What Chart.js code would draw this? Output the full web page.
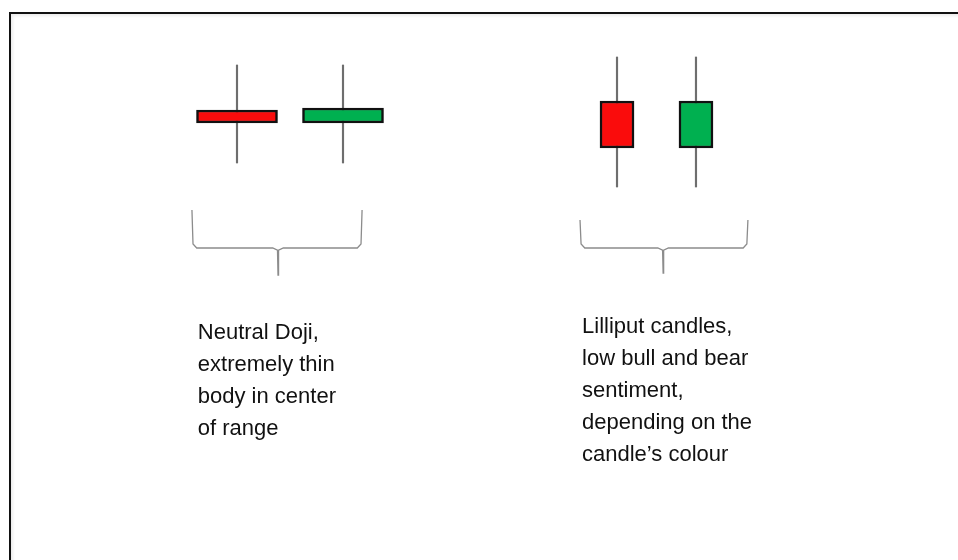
<!DOCTYPE html>
<html>
<head>
<meta charset="utf-8">
<script src="https://cdn.jsdelivr.net/npm/chart.js@4/dist/chart.umd.min.js"></script>
<style>
  html, body { margin: 0; padding: 0; background: #fff; }
  #wrap { position: relative; width: 958px; height: 560px; overflow: hidden; }
  #frame {
    position: absolute; left: 9px; top: 12px; right: -4px; bottom: -4px;
    border-top: 2px solid #111; border-left: 2px solid #111;
    box-shadow: inset 2px 2px 3px rgba(0,0,0,0.08);
  }
  canvas { position: absolute; left: 0; top: 0; }
</style>
</head>
<body>
<div id="wrap">
  <div id="frame"></div>
  <canvas id="velas" width="958" height="560"></canvas>
</div>
<script>
// posiciones de las velas (eje x) y precios
const candleX   = [1, 2, 4.585, 5.33];
const candleOpen  = [72, 66.8, 75.6, 56.8];
const candleClose = [66.8, 72.8, 56.8, 75.6];
const candleHigh  = [90, 90, 93.2, 93.2];
const candleLow   = [50.8, 50.8, 41.2, 41.2];
const candleKind  = ['doji', 'doji', 'lilliput', 'lilliput'];

// llaves bajo cada grupo
const braceSpans = [[0.575, 2.18], [4.236, 5.82]];
const braceTips  = [1.387, 5.02];
const braceTops  = [32, 28];
const braceBar   = [16.8, 16.8];
const braceTail  = [6, 6.8];

const notes = [
  ["Neutral Doji,", "extremely thin", "body in center", "of range"],
  ["Lilliput candles,", "low bull and bear", "sentiment,", "depending on the", "candle\u2019s colour"]
];

const ROJO = 'rgb(250,12,12)';
const VERDE = 'rgb(0,176,80)';

function bodies(kind){
  const pts = [];
  candleX.forEach((x, i) => {
    if (candleKind[i] === kind) pts.push({x: x, y: [candleOpen[i], candleClose[i]]});
  });
  return pts;
}
function bodyColors(kind){
  const c = [];
  candleX.forEach((x, i) => {
    if (candleKind[i] === kind) c.push(candleClose[i] > candleOpen[i] ? VERDE : ROJO);
  });
  return c;
}

function bracePoints(i){
  const a = braceSpans[i][0], b = braceSpans[i][1], t = braceTips[i];
  const top = braceTops[i], bar = braceBar[i], tail = braceTail[i];
  return [
    {x: a, y: top}, {x: a + 0.01, y: bar + 1.6}, {x: a + 0.045, y: bar},
    {x: t - 0.05, y: bar}, {x: t - 0.005, y: bar - 0.9}, {x: t, y: tail},
    {x: t + 0.005, y: bar - 0.9}, {x: t + 0.05, y: bar},
    {x: b - 0.045, y: bar}, {x: b - 0.01, y: bar + 1.6}, {x: b, y: top}
  ];
}

const textos = {
  id: 'textos',
  afterDraw(chart){
    const ctx = chart.ctx, xs = chart.scales.x, ys = chart.scales.y;
    const anchors = [{x: 0.63, y: -19.6}, {x: 4.255, y: -17.2}];
    ctx.save();
    ctx.font = '22px "Liberation Sans", Arial, sans-serif';
    ctx.fillStyle = '#111';
    ctx.textBaseline = 'alphabetic';
    ctx.textAlign = 'left';
    notes.forEach((lines, k) => {
      const px = xs.getPixelForValue(anchors[k].x);
      const py = ys.getPixelForValue(anchors[k].y);
      lines.forEach((l, j) => ctx.fillText(l, px, py + j * 32));
    });
    ctx.restore();
  }
};

const datasets = [
  {
    type: 'bar', data: bodies('doji'), barThickness: 81, grouped: false,
    backgroundColor: bodyColors('doji'), borderColor: '#111', borderWidth: 2.5,
    borderSkipped: false, order: 0
  },
  {
    type: 'bar', data: bodies('lilliput'), barThickness: 34, grouped: false,
    backgroundColor: bodyColors('lilliput'), borderColor: '#111', borderWidth: 2.5,
    borderSkipped: false, order: 0
  },
  {
    type: 'bar', data: candleX.map((x, i) => ({x: x, y: [candleLow[i], candleHigh[i]]})),
    barThickness: 1.5, grouped: false, backgroundColor: '#6e6e6e', borderWidth: 0, order: 2
  }
];
braceSpans.forEach((s, i) => {
  datasets.push({
    type: 'line', data: bracePoints(i), borderColor: '#8c8c8c', borderWidth: 1.3,
    pointRadius: 0, tension: 0, fill: false, order: 1
  });
});

new Chart(document.getElementById('velas'), {
  type: 'bar',
  data: { datasets: datasets },
  options: {
    responsive: false,
    animation: false,
    events: [],
    layout: { padding: { left: 131, right: 32, top: 40, bottom: 70 } },
    plugins: { legend: { display: false }, tooltip: { enabled: false } },
    scales: {
      x: { type: 'linear', min: 0, max: 7.5, offset: false, display: false },
      y: { type: 'linear', min: -80, max: 100, display: false }
    }
  },
  plugins: [textos]
});
</script>
</body>
</html>
